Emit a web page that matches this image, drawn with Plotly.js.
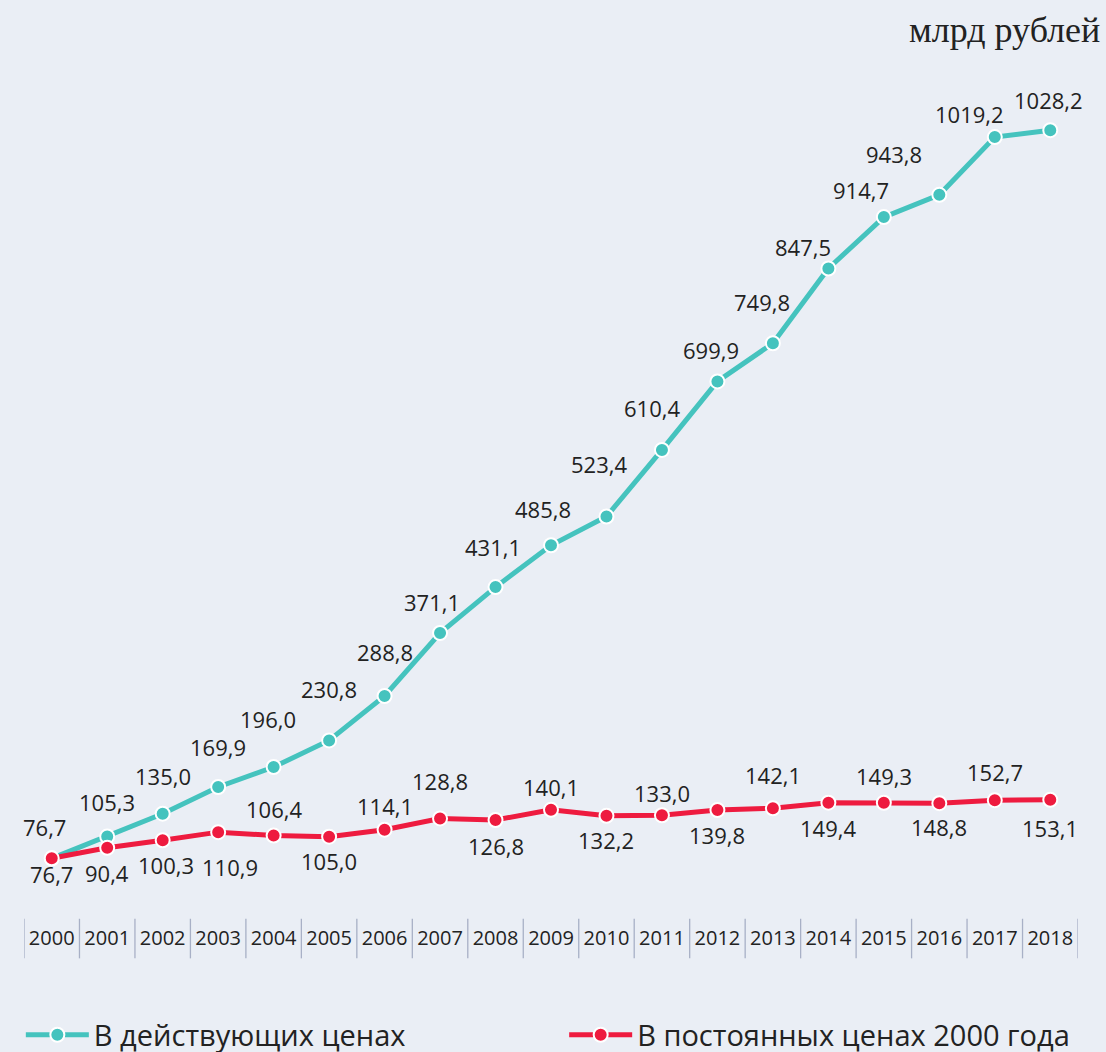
<!DOCTYPE html>
<html>
<head>
<meta charset="utf-8">
<script src="https://cdn.plot.ly/plotly-3.0.1.min.js"></script>
<style>
html,body{margin:0;padding:0;background:#EAEEF5;}
#chart{width:1106px;height:1052px;}
</style>
</head>
<body>
<div id="chart"></div>
<script>
// ---- data ----
const years = ['2000','2001','2002','2003','2004','2005','2006','2007','2008','2009','2010','2011','2012','2013','2014','2015','2016','2017','2018'];
const currentPrices = [76.7,105.3,135.0,169.9,196.0,230.8,288.8,371.1,431.1,485.8,523.4,610.4,699.9,749.8,847.5,914.7,943.8,1019.2,1028.2];
const constantPrices = [76.7,90.4,100.3,110.9,106.4,105.0,114.1,128.8,126.8,140.1,132.2,133.0,139.8,142.1,149.4,149.3,148.8,152.7,153.1];
const seriesNames = ['В действующих ценах','В постоянных ценах 2000 года'];
const unitLabel = 'млрд рублей';

// ---- label placement (pixel offsets from each point) ----
const curDx = [-7,0,0,0,-6,0,0,-8,-3,-8,-7,-10,-6,-11,-25,-23,-45,-25,-2];
const curDy = [-31,-34,-38,-40,-48,-51,-44,-31,-40,-36,-52,-42,-31,-41,-21,-27,-41,-23,-30];
const conDx = [0,0,3,12,0,0,0,0,0,0,0,0,0,0,0,0,0,0,0];
const conDy = [16,25,25,35,-27,24,-24,-37,26,-23,24,-22,25,-33,25,-27,24,-28,28];

const TEAL = '#45C3BE';
const RED = '#EE1B3F';
const BG = '#EAEEF5';
const TXT = '#222222';
const FONT = 'Open Sans, Liberation Sans, sans-serif';

const fmt = v => v.toFixed(1).replace('.', ',');

const traces = [
  {
    x: years, y: currentPrices, name: seriesNames[0], type: 'scatter', mode: 'lines+markers',
    line: {color: TEAL, width: 5},
    marker: {color: TEAL, size: 14, line: {color: '#FFFFFF', width: 2}},
    legend: 'legend', cliponaxis: false
  },
  {
    x: years, y: constantPrices, name: seriesNames[1], type: 'scatter', mode: 'lines+markers',
    line: {color: RED, width: 5},
    marker: {color: RED, size: 14, line: {color: '#FFFFFF', width: 2}},
    legend: 'legend2', cliponaxis: false
  }
];

const annotations = [];
years.forEach((yr, i) => {
  // category axis: position = category index
  annotations.push({x: i, y: currentPrices[i], xref: 'x', yref: 'y', text: fmt(currentPrices[i]),
    showarrow: false, xshift: curDx[i], yshift: -curDy[i], font: {family: FONT, size: 22, color: TXT}});
  annotations.push({x: i, y: constantPrices[i], xref: 'x', yref: 'y', text: fmt(constantPrices[i]),
    showarrow: false, xshift: conDx[i], yshift: -conDy[i], font: {family: FONT, size: 22, color: TXT}});
});
annotations.push({xref: 'paper', yref: 'paper', x: 1.0228, y: 1.0, xanchor: 'right', yanchor: 'middle', yshift: 7,
  text: unitLabel, showarrow: false, font: {family: 'Liberation Serif, serif', size: 36, color: TXT}});

// category separators below the axis
const shapes = [];
for (let i = 0; i <= years.length; i++) {
  shapes.push({type: 'line', xref: 'x', yref: 'paper', x0: i - 0.5, x1: i - 0.5, y0: -0.002, y1: -0.047,
    line: {color: '#A8B0C6', width: 1.3}});
}

const layout = {
  width: 1106, height: 1052,
  paper_bgcolor: BG, plot_bgcolor: BG,
  margin: {l: 24, r: 28, t: 37, b: 135, autoexpand: false},
  showlegend: true,
  xaxis: {type: 'category', range: [-0.5, 18.5], showgrid: false, zeroline: false, showline: false,
    ticks: 'outside', ticklen: 3, tickcolor: 'rgba(0,0,0,0)',
    tickfont: {family: FONT, size: 20, color: TXT}, fixedrange: true},
  yaxis: {range: [0, 1150], showgrid: false, zeroline: false, showline: false, showticklabels: false, ticks: '', fixedrange: true},
  legend: {orientation: 'h', x: -0.003, xanchor: 'left', y: -0.134, yanchor: 'middle', itemwidth: 63,
    font: {family: FONT, size: 29, color: TXT}, bgcolor: 'rgba(0,0,0,0)'},
  legend2: {orientation: 'h', x: 0.5125, xanchor: 'left', y: -0.134, yanchor: 'middle', itemwidth: 63,
    font: {family: FONT, size: 29, color: TXT}, bgcolor: 'rgba(0,0,0,0)'},
  annotations: annotations,
  shapes: shapes
};

Plotly.newPlot('chart', traces, layout, {staticPlot: true, displayModeBar: false});
</script>
</body>
</html>
